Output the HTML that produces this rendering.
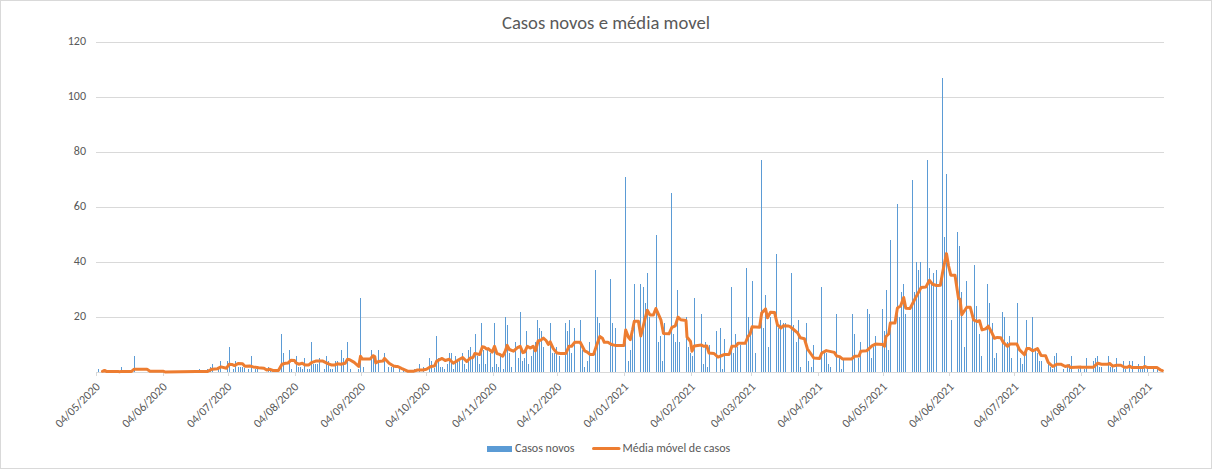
<!DOCTYPE html><html><head><meta charset="utf-8"><style>html,body{margin:0;padding:0;background:#fff;overflow:hidden}svg{display:block}text{font-family:Carlito,"Liberation Sans",sans-serif;fill:#595959}</style></head><body>
<svg width="1212" height="469" viewBox="0 0 1212 469">
<rect x="0" y="0" width="1212" height="469" fill="#fff"/>
<rect x="0.5" y="0.5" width="1211" height="468" fill="none" stroke="#d9d9d9" stroke-width="1"/>
<text x="606" y="29" text-anchor="middle" font-size="18.67" textLength="208.1" lengthAdjust="spacingAndGlyphs">Casos novos e média movel</text>
<rect x="96" y="42" width="1068" height="1" fill="#d9d9d9"/><text x="86" y="44.5" text-anchor="end" font-size="12" textLength="18.25" lengthAdjust="spacingAndGlyphs">120</text><rect x="96" y="97" width="1068" height="1" fill="#d9d9d9"/><text x="86" y="99.5" text-anchor="end" font-size="12" textLength="18.25" lengthAdjust="spacingAndGlyphs">100</text><rect x="96" y="152" width="1068" height="1" fill="#d9d9d9"/><text x="86" y="154.5" text-anchor="end" font-size="12" textLength="12.17" lengthAdjust="spacingAndGlyphs">80</text><rect x="96" y="207" width="1068" height="1" fill="#d9d9d9"/><text x="86" y="209.5" text-anchor="end" font-size="12" textLength="12.17" lengthAdjust="spacingAndGlyphs">60</text><rect x="96" y="262" width="1068" height="1" fill="#d9d9d9"/><text x="86" y="264.5" text-anchor="end" font-size="12" textLength="12.17" lengthAdjust="spacingAndGlyphs">40</text><rect x="96" y="317" width="1068" height="1" fill="#d9d9d9"/><text x="86" y="319.5" text-anchor="end" font-size="12" textLength="12.17" lengthAdjust="spacingAndGlyphs">20</text>
<rect x="96" y="372" width="1068" height="1" fill="#d9d9d9"/>
<rect x="96" y="372" width="1" height="4" fill="#d9d9d9"/><rect x="163" y="372" width="1" height="4" fill="#d9d9d9"/><rect x="228" y="372" width="1" height="4" fill="#d9d9d9"/><rect x="295" y="372" width="1" height="4" fill="#d9d9d9"/><rect x="361" y="372" width="1" height="4" fill="#d9d9d9"/><rect x="426" y="372" width="1" height="4" fill="#d9d9d9"/><rect x="493" y="372" width="1" height="4" fill="#d9d9d9"/><rect x="557" y="372" width="1" height="4" fill="#d9d9d9"/><rect x="624" y="372" width="1" height="4" fill="#d9d9d9"/><rect x="691" y="372" width="1" height="4" fill="#d9d9d9"/><rect x="751" y="372" width="1" height="4" fill="#d9d9d9"/><rect x="818" y="372" width="1" height="4" fill="#d9d9d9"/><rect x="883" y="372" width="1" height="4" fill="#d9d9d9"/><rect x="949" y="372" width="1" height="4" fill="#d9d9d9"/><rect x="1014" y="372" width="1" height="4" fill="#d9d9d9"/><rect x="1081" y="372" width="1" height="4" fill="#d9d9d9"/><rect x="1148" y="372" width="1" height="4" fill="#d9d9d9"/>
<g fill="#5b9bd5"><rect x="98" y="369.00" width="1" height="3.00"/><rect x="121" y="367.00" width="1" height="5.00"/><rect x="134" y="356.00" width="1" height="16.00"/><rect x="199" y="369.00" width="1" height="3.00"/><rect x="207" y="369.00" width="1" height="3.00"/><rect x="210" y="367.00" width="1" height="5.00"/><rect x="212" y="364.00" width="1" height="8.00"/><rect x="218" y="369.00" width="1" height="3.00"/><rect x="220" y="361.00" width="1" height="11.00"/><rect x="227" y="361.00" width="1" height="11.00"/><rect x="229" y="347.00" width="1" height="25.00"/><rect x="233" y="369.00" width="1" height="3.00"/><rect x="235" y="361.00" width="1" height="11.00"/><rect x="238" y="367.00" width="1" height="5.00"/><rect x="240" y="367.00" width="1" height="5.00"/><rect x="242" y="367.00" width="1" height="5.00"/><rect x="244" y="368.00" width="1" height="4.00"/><rect x="248" y="369.00" width="1" height="3.00"/><rect x="251" y="356.00" width="1" height="16.00"/><rect x="255" y="369.00" width="1" height="3.00"/><rect x="257" y="369.00" width="1" height="3.00"/><rect x="268" y="367.00" width="1" height="5.00"/><rect x="270" y="369.00" width="1" height="3.00"/><rect x="281" y="334.00" width="1" height="38.00"/><rect x="283" y="353.00" width="1" height="19.00"/><rect x="289" y="350.00" width="1" height="22.00"/><rect x="291" y="369.00" width="1" height="3.00"/><rect x="296" y="356.00" width="1" height="16.00"/><rect x="298" y="367.00" width="1" height="5.00"/><rect x="300" y="367.00" width="1" height="5.00"/><rect x="302" y="369.00" width="1" height="3.00"/><rect x="304" y="358.00" width="1" height="14.00"/><rect x="307" y="369.00" width="1" height="3.00"/><rect x="309" y="369.00" width="1" height="3.00"/><rect x="311" y="342.00" width="1" height="30.00"/><rect x="313" y="364.00" width="1" height="8.00"/><rect x="315" y="364.00" width="1" height="8.00"/><rect x="317" y="364.00" width="1" height="8.00"/><rect x="319" y="358.00" width="1" height="14.00"/><rect x="324" y="369.00" width="1" height="3.00"/><rect x="326" y="356.00" width="1" height="16.00"/><rect x="328" y="361.00" width="1" height="11.00"/><rect x="330" y="369.00" width="1" height="3.00"/><rect x="332" y="369.00" width="1" height="3.00"/><rect x="335" y="361.00" width="1" height="11.00"/><rect x="337" y="361.00" width="1" height="11.00"/><rect x="341" y="350.00" width="1" height="22.00"/><rect x="343" y="358.00" width="1" height="14.00"/><rect x="347" y="342.00" width="1" height="30.00"/><rect x="350" y="369.00" width="1" height="3.00"/><rect x="358" y="369.00" width="1" height="3.00"/><rect x="360" y="298.00" width="1" height="74.00"/><rect x="363" y="367.00" width="1" height="5.00"/><rect x="371" y="350.00" width="1" height="22.00"/><rect x="373" y="356.00" width="1" height="16.00"/><rect x="375" y="356.00" width="1" height="16.00"/><rect x="378" y="350.00" width="1" height="22.00"/><rect x="384" y="353.00" width="1" height="19.00"/><rect x="388" y="367.00" width="1" height="5.00"/><rect x="391" y="367.00" width="1" height="5.00"/><rect x="393" y="367.00" width="1" height="5.00"/><rect x="399" y="369.00" width="1" height="3.00"/><rect x="403" y="369.00" width="1" height="3.00"/><rect x="414" y="369.00" width="1" height="3.00"/><rect x="419" y="364.00" width="1" height="8.00"/><rect x="423" y="367.00" width="1" height="5.00"/><rect x="429" y="358.00" width="1" height="14.00"/><rect x="431" y="361.00" width="1" height="11.00"/><rect x="434" y="368.00" width="1" height="4.00"/><rect x="436" y="336.00" width="1" height="36.00"/><rect x="438" y="358.00" width="1" height="14.00"/><rect x="440" y="367.00" width="1" height="5.00"/><rect x="442" y="367.00" width="1" height="5.00"/><rect x="444" y="369.00" width="1" height="3.00"/><rect x="447" y="364.00" width="1" height="8.00"/><rect x="449" y="353.00" width="1" height="19.00"/><rect x="451" y="353.00" width="1" height="19.00"/><rect x="453" y="369.00" width="1" height="3.00"/><rect x="455" y="356.00" width="1" height="16.00"/><rect x="457" y="362.00" width="1" height="10.00"/><rect x="459" y="361.00" width="1" height="11.00"/><rect x="462" y="353.00" width="1" height="19.00"/><rect x="464" y="364.00" width="1" height="8.00"/><rect x="466" y="369.00" width="1" height="3.00"/><rect x="468" y="350.00" width="1" height="22.00"/><rect x="470" y="347.00" width="1" height="25.00"/><rect x="472" y="358.00" width="1" height="14.00"/><rect x="475" y="334.00" width="1" height="38.00"/><rect x="477" y="356.00" width="1" height="16.00"/><rect x="479" y="364.00" width="1" height="8.00"/><rect x="481" y="323.00" width="1" height="49.00"/><rect x="483" y="350.00" width="1" height="22.00"/><rect x="485" y="364.00" width="1" height="8.00"/><rect x="487" y="350.00" width="1" height="22.00"/><rect x="490" y="353.00" width="1" height="19.00"/><rect x="492" y="367.00" width="1" height="5.00"/><rect x="494" y="323.00" width="1" height="49.00"/><rect x="496" y="364.00" width="1" height="8.00"/><rect x="498" y="367.00" width="1" height="5.00"/><rect x="500" y="356.00" width="1" height="16.00"/><rect x="503" y="369.00" width="1" height="3.00"/><rect x="505" y="317.00" width="1" height="55.00"/><rect x="507" y="325.00" width="1" height="47.00"/><rect x="509" y="353.00" width="1" height="19.00"/><rect x="511" y="367.00" width="1" height="5.00"/><rect x="515" y="342.00" width="1" height="30.00"/><rect x="518" y="358.00" width="1" height="14.00"/><rect x="520" y="312.00" width="1" height="60.00"/><rect x="522" y="361.00" width="1" height="11.00"/><rect x="524" y="358.00" width="1" height="14.00"/><rect x="526" y="331.00" width="1" height="41.00"/><rect x="528" y="364.00" width="1" height="8.00"/><rect x="531" y="356.00" width="1" height="16.00"/><rect x="533" y="350.00" width="1" height="22.00"/><rect x="535" y="342.00" width="1" height="30.00"/><rect x="537" y="320.00" width="1" height="52.00"/><rect x="539" y="328.00" width="1" height="44.00"/><rect x="541" y="331.00" width="1" height="41.00"/><rect x="543" y="347.00" width="1" height="25.00"/><rect x="550" y="323.00" width="1" height="49.00"/><rect x="552" y="353.00" width="1" height="19.00"/><rect x="554" y="353.00" width="1" height="19.00"/><rect x="556" y="347.00" width="1" height="25.00"/><rect x="559" y="356.00" width="1" height="16.00"/><rect x="565" y="323.00" width="1" height="49.00"/><rect x="567" y="331.00" width="1" height="41.00"/><rect x="569" y="320.00" width="1" height="52.00"/><rect x="571" y="353.00" width="1" height="19.00"/><rect x="574" y="328.00" width="1" height="44.00"/><rect x="580" y="320.00" width="1" height="52.00"/><rect x="582" y="350.00" width="1" height="22.00"/><rect x="584" y="367.00" width="1" height="5.00"/><rect x="587" y="361.00" width="1" height="11.00"/><rect x="589" y="342.00" width="1" height="30.00"/><rect x="595" y="270.00" width="1" height="102.00"/><rect x="597" y="317.00" width="1" height="55.00"/><rect x="599" y="323.00" width="1" height="49.00"/><rect x="610" y="279.00" width="1" height="93.00"/><rect x="612" y="323.00" width="1" height="49.00"/><rect x="615" y="328.00" width="1" height="44.00"/><rect x="625" y="177.00" width="1" height="195.00"/><rect x="628" y="361.00" width="1" height="11.00"/><rect x="630" y="350.00" width="1" height="22.00"/><rect x="632" y="328.00" width="1" height="44.00"/><rect x="634" y="284.00" width="1" height="88.00"/><rect x="640" y="284.00" width="1" height="88.00"/><rect x="643" y="287.00" width="1" height="85.00"/><rect x="645" y="303.00" width="1" height="69.00"/><rect x="647" y="273.00" width="1" height="99.00"/><rect x="649" y="317.00" width="1" height="55.00"/><rect x="656" y="235.00" width="1" height="137.00"/><rect x="658" y="342.00" width="1" height="30.00"/><rect x="660" y="336.00" width="1" height="36.00"/><rect x="662" y="361.00" width="1" height="11.00"/><rect x="664" y="323.00" width="1" height="49.00"/><rect x="671" y="193.00" width="1" height="179.00"/><rect x="673" y="334.00" width="1" height="38.00"/><rect x="675" y="342.00" width="1" height="30.00"/><rect x="677" y="290.00" width="1" height="82.00"/><rect x="679" y="342.00" width="1" height="30.00"/><rect x="686" y="317.00" width="1" height="55.00"/><rect x="688" y="347.00" width="1" height="25.00"/><rect x="690" y="353.00" width="1" height="19.00"/><rect x="692" y="356.00" width="1" height="16.00"/><rect x="694" y="298.00" width="1" height="74.00"/><rect x="701" y="314.00" width="1" height="58.00"/><rect x="703" y="364.00" width="1" height="8.00"/><rect x="705" y="342.00" width="1" height="30.00"/><rect x="707" y="367.00" width="1" height="5.00"/><rect x="709" y="345.00" width="1" height="27.00"/><rect x="716" y="331.00" width="1" height="41.00"/><rect x="720" y="328.00" width="1" height="44.00"/><rect x="722" y="369.00" width="1" height="3.00"/><rect x="724" y="339.00" width="1" height="33.00"/><rect x="731" y="287.00" width="1" height="85.00"/><rect x="733" y="353.00" width="1" height="19.00"/><rect x="735" y="334.00" width="1" height="38.00"/><rect x="737" y="347.00" width="1" height="25.00"/><rect x="740" y="345.00" width="1" height="27.00"/><rect x="746" y="268.00" width="1" height="104.00"/><rect x="748" y="317.00" width="1" height="55.00"/><rect x="750" y="328.00" width="1" height="44.00"/><rect x="752" y="281.00" width="1" height="91.00"/><rect x="755" y="353.00" width="1" height="19.00"/><rect x="761" y="160.00" width="1" height="212.00"/><rect x="763" y="328.00" width="1" height="44.00"/><rect x="765" y="295.00" width="1" height="77.00"/><rect x="768" y="347.00" width="1" height="25.00"/><rect x="770" y="317.00" width="1" height="55.00"/><rect x="776" y="254.00" width="1" height="118.00"/><rect x="778" y="328.00" width="1" height="44.00"/><rect x="780" y="320.00" width="1" height="52.00"/><rect x="783" y="323.00" width="1" height="49.00"/><rect x="785" y="323.00" width="1" height="49.00"/><rect x="791" y="273.00" width="1" height="99.00"/><rect x="793" y="325.00" width="1" height="47.00"/><rect x="796" y="342.00" width="1" height="30.00"/><rect x="798" y="320.00" width="1" height="52.00"/><rect x="800" y="367.00" width="1" height="5.00"/><rect x="806" y="323.00" width="1" height="49.00"/><rect x="808" y="361.00" width="1" height="11.00"/><rect x="811" y="367.00" width="1" height="5.00"/><rect x="813" y="345.00" width="1" height="27.00"/><rect x="821" y="287.00" width="1" height="85.00"/><rect x="824" y="353.00" width="1" height="19.00"/><rect x="826" y="353.00" width="1" height="19.00"/><rect x="828" y="364.00" width="1" height="8.00"/><rect x="830" y="367.00" width="1" height="5.00"/><rect x="836" y="314.00" width="1" height="58.00"/><rect x="839" y="358.00" width="1" height="14.00"/><rect x="841" y="369.00" width="1" height="3.00"/><rect x="843" y="358.00" width="1" height="14.00"/><rect x="852" y="314.00" width="1" height="58.00"/><rect x="854" y="334.00" width="1" height="38.00"/><rect x="858" y="358.00" width="1" height="14.00"/><rect x="860" y="342.00" width="1" height="30.00"/><rect x="867" y="309.00" width="1" height="63.00"/><rect x="869" y="314.00" width="1" height="58.00"/><rect x="871" y="358.00" width="1" height="14.00"/><rect x="873" y="347.00" width="1" height="25.00"/><rect x="875" y="336.00" width="1" height="36.00"/><rect x="882" y="309.00" width="1" height="63.00"/><rect x="884" y="331.00" width="1" height="41.00"/><rect x="886" y="290.00" width="1" height="82.00"/><rect x="888" y="350.00" width="1" height="22.00"/><rect x="890" y="240.00" width="1" height="132.00"/><rect x="897" y="204.00" width="1" height="168.00"/><rect x="899" y="317.00" width="1" height="55.00"/><rect x="901" y="292.00" width="1" height="80.00"/><rect x="903" y="284.00" width="1" height="88.00"/><rect x="905" y="314.00" width="1" height="58.00"/><rect x="912" y="180.00" width="1" height="192.00"/><rect x="914" y="292.00" width="1" height="80.00"/><rect x="916" y="262.00" width="1" height="110.00"/><rect x="918" y="270.00" width="1" height="102.00"/><rect x="920" y="262.00" width="1" height="110.00"/><rect x="927" y="160.00" width="1" height="212.00"/><rect x="929" y="268.00" width="1" height="104.00"/><rect x="931" y="284.00" width="1" height="88.00"/><rect x="933" y="273.00" width="1" height="99.00"/><rect x="936" y="270.00" width="1" height="102.00"/><rect x="942" y="78.00" width="1" height="294.00"/><rect x="944" y="237.00" width="1" height="135.00"/><rect x="946" y="174.00" width="1" height="198.00"/><rect x="951" y="320.00" width="1" height="52.00"/><rect x="957" y="232.00" width="1" height="140.00"/><rect x="959" y="246.00" width="1" height="126.00"/><rect x="961" y="292.00" width="1" height="80.00"/><rect x="964" y="347.00" width="1" height="25.00"/><rect x="966" y="281.00" width="1" height="91.00"/><rect x="972" y="320.00" width="1" height="52.00"/><rect x="974" y="265.00" width="1" height="107.00"/><rect x="976" y="306.00" width="1" height="66.00"/><rect x="979" y="334.00" width="1" height="38.00"/><rect x="981" y="356.00" width="1" height="16.00"/><rect x="987" y="284.00" width="1" height="88.00"/><rect x="989" y="303.00" width="1" height="69.00"/><rect x="992" y="323.00" width="1" height="49.00"/><rect x="994" y="358.00" width="1" height="14.00"/><rect x="996" y="353.00" width="1" height="19.00"/><rect x="1002" y="312.00" width="1" height="60.00"/><rect x="1004" y="317.00" width="1" height="55.00"/><rect x="1007" y="342.00" width="1" height="30.00"/><rect x="1009" y="336.00" width="1" height="36.00"/><rect x="1011" y="358.00" width="1" height="14.00"/><rect x="1017" y="303.00" width="1" height="69.00"/><rect x="1020" y="358.00" width="1" height="14.00"/><rect x="1022" y="364.00" width="1" height="8.00"/><rect x="1024" y="356.00" width="1" height="16.00"/><rect x="1026" y="320.00" width="1" height="52.00"/><rect x="1032" y="317.00" width="1" height="55.00"/><rect x="1035" y="350.00" width="1" height="22.00"/><rect x="1037" y="353.00" width="1" height="19.00"/><rect x="1039" y="361.00" width="1" height="11.00"/><rect x="1041" y="361.00" width="1" height="11.00"/><rect x="1048" y="364.00" width="1" height="8.00"/><rect x="1050" y="367.00" width="1" height="5.00"/><rect x="1052" y="369.00" width="1" height="3.00"/><rect x="1054" y="356.00" width="1" height="16.00"/><rect x="1056" y="353.00" width="1" height="19.00"/><rect x="1063" y="369.00" width="1" height="3.00"/><rect x="1067" y="367.00" width="1" height="5.00"/><rect x="1069" y="364.00" width="1" height="8.00"/><rect x="1071" y="356.00" width="1" height="16.00"/><rect x="1078" y="369.00" width="1" height="3.00"/><rect x="1080" y="367.00" width="1" height="5.00"/><rect x="1084" y="369.00" width="1" height="3.00"/><rect x="1086" y="358.00" width="1" height="14.00"/><rect x="1093" y="361.00" width="1" height="11.00"/><rect x="1095" y="358.00" width="1" height="14.00"/><rect x="1097" y="356.00" width="1" height="16.00"/><rect x="1099" y="367.00" width="1" height="5.00"/><rect x="1101" y="367.00" width="1" height="5.00"/><rect x="1108" y="356.00" width="1" height="16.00"/><rect x="1110" y="367.00" width="1" height="5.00"/><rect x="1112" y="367.00" width="1" height="5.00"/><rect x="1114" y="369.00" width="1" height="3.00"/><rect x="1116" y="358.00" width="1" height="14.00"/><rect x="1123" y="361.00" width="1" height="11.00"/><rect x="1125" y="369.00" width="1" height="3.00"/><rect x="1129" y="361.00" width="1" height="11.00"/><rect x="1132" y="361.00" width="1" height="11.00"/><rect x="1138" y="364.00" width="1" height="8.00"/><rect x="1140" y="369.00" width="1" height="3.00"/><rect x="1142" y="369.00" width="1" height="3.00"/><rect x="1144" y="356.00" width="1" height="16.00"/><rect x="1147" y="369.00" width="1" height="3.00"/><rect x="1153" y="369.00" width="1" height="3.00"/><rect x="1157" y="369.00" width="1" height="3.00"/></g>
<polyline points="102.5,371.3 104.5,370.4 106.3,371.4 117.8,371.4 119.5,371.8 121.3,371.4 131.5,371.4 134.2,369.2 147.0,369.2 150.0,371.2 163.0,371.2 165.0,371.9 196.0,371.6 207.6,371.4 212.1,369.2 217.5,368.7 221.0,366.9 226.4,368.3 229.1,364.2 231.8,364.4 234.5,365.6 238.1,363.5 242.6,363.8 244.8,366.2 249.7,366.0 253.3,366.9 258.7,367.8 264.0,368.3 266.7,370.0 269.4,369.2 273.0,370.5 278.4,370.5 282.0,364.2 285.5,363.3 288.2,362.9 290.9,360.2 294.5,360.5 296.0,362.9 298.7,364.2 302.3,363.3 305.0,365.1 308.5,365.1 312.1,362.3 315.7,361.1 322.9,361.1 327.3,363.3 331.8,365.1 334.5,365.1 337.2,363.8 340.8,364.2 345.2,363.3 347.5,359.3 349.7,359.8 354.2,362.4 358.7,366.5 360.5,356.2 362.2,358.9 370.3,358.9 373.0,355.7 374.8,356.6 375.7,362.9 378.4,361.5 382.8,361.1 384.6,358.4 389.1,363.3 393.6,366.0 396.0,366.5 397.8,366.5 401.4,368.3 407.6,371.2 413.9,371.2 417.5,370.0 422.9,370.0 426.4,369.2 430.9,366.5 434.5,366.0 436.7,361.1 442.1,358.4 445.2,360.5 449.3,359.3 453.3,363.3 458.7,359.8 462.7,357.5 466.7,361.5 470.3,358.0 473.0,357.5 474.8,353.5 479.7,354.4 482.4,346.8 484.6,347.2 486.4,349.0 488.2,348.6 492.2,352.1 494.5,346.3 496.9,353.5 499.6,354.4 502.7,356.2 505.0,351.7 507.2,345.4 509.4,349.5 513.5,351.2 517.5,347.7 520.2,346.3 522.9,352.6 524.6,352.1 527.3,346.3 530.5,348.1 533.2,346.3 535.4,350.8 538.1,341.0 540.8,340.1 543.4,338.1 546.1,340.5 548.4,344.5 550.2,341.8 553.3,348.6 556.9,353.0 560.5,353.5 565.8,353.5 569.0,346.3 571.6,346.3 574.8,342.3 580.2,342.3 584.6,350.8 587.3,352.1 590.0,354.4 593.6,354.4 596.3,346.3 599.8,336.5 602.5,338.3 604.3,342.3 607.9,342.3 611.5,344.5 615.1,345.4 624.0,345.4 625.7,330.0 628.5,337.4 630.3,339.6 632.5,330.0 634.3,321.2 638.4,321.2 640.8,336.0 644.6,320.5 647.3,310.2 650.0,315.0 653.4,315.0 655.9,308.5 660.9,319.8 663.5,333.4 669.0,333.8 671.9,327.3 675.3,325.9 678.0,317.1 680.7,319.8 686.0,320.6 687.0,337.0 690.5,341.5 692.0,351.2 694.3,345.9 701.4,345.0 703.7,346.3 706.8,345.9 709.0,353.0 714.0,353.5 718.0,357.1 722.0,355.5 724.7,354.4 729.2,354.4 731.9,346.3 736.3,345.9 738.1,343.2 745.3,343.2 748.0,336.5 750.1,334.0 752.1,326.8 759.6,327.2 761.7,313.0 765.5,308.9 767.5,317.7 770.5,312.3 774.6,312.6 777.4,324.6 780.8,328.0 783.5,325.7 788.0,325.9 790.1,326.6 794.2,330.0 797.6,332.9 800.3,337.8 804.4,338.7 807.5,349.0 813.8,358.0 819.6,358.4 821.8,353.0 826.3,350.6 834.3,352.4 836.6,356.0 839.7,356.6 842.4,358.9 851.8,358.9 854.5,356.2 859.0,356.0 860.8,351.2 866.6,350.8 872.0,345.9 875.5,344.1 882.7,344.5 884.5,346.3 886.0,336.5 888.7,334.0 890.3,323.1 895.0,323.1 897.4,308.1 900.6,306.1 903.7,297.5 905.8,308.2 910.0,308.5 915.5,297.9 921.1,287.6 925.8,287.1 929.5,280.3 932.6,284.3 936.4,285.5 938.0,285.4 940.4,285.3 942.4,273.5 944.3,264.0 946.5,253.6 948.6,266.0 950.8,275.2 955.0,275.2 958.4,297.9 960.1,299.6 961.8,314.8 966.8,307.2 970.2,307.2 973.6,319.8 976.9,321.5 979.5,320.7 982.0,329.9 985.6,328.9 988.3,326.2 991.9,332.8 994.5,338.3 997.2,337.4 1000.8,337.8 1003.5,342.7 1007.5,346.3 1009.8,344.1 1016.9,344.1 1019.6,349.9 1024.5,354.8 1026.8,348.6 1029.4,348.6 1032.6,350.8 1037.5,348.6 1041.1,355.5 1045.6,355.7 1048.2,362.4 1052.7,366.5 1057.2,364.2 1060.8,364.2 1065.3,366.5 1068.0,365.6 1070.6,367.4 1080.5,367.1 1081.5,367.2 1093.4,367.2 1097.8,363.2 1101.5,364.3 1107.5,364.3 1109.7,363.5 1112.7,366.1 1116.4,365.2 1120.8,365.2 1124.5,367.2 1127.5,367.2 1129.4,366.1 1132.0,367.6 1143.1,367.6 1144.6,366.5 1147.6,367.6 1157.2,367.6 1160.2,369.8 1162.4,370.6" fill="none" stroke="#ed7d31" stroke-width="3" stroke-linejoin="round" stroke-linecap="round"/>
<text x="100.9" y="387.4" text-anchor="end" font-size="12" textLength="57.94" lengthAdjust="spacingAndGlyphs" transform="rotate(-45 100.9 387.4)">04/05/2020</text><text x="167.7" y="387.4" text-anchor="end" font-size="12" textLength="57.94" lengthAdjust="spacingAndGlyphs" transform="rotate(-45 167.7 387.4)">04/06/2020</text><text x="232.4" y="387.4" text-anchor="end" font-size="12" textLength="57.94" lengthAdjust="spacingAndGlyphs" transform="rotate(-45 232.4 387.4)">04/07/2020</text><text x="299.2" y="387.4" text-anchor="end" font-size="12" textLength="57.94" lengthAdjust="spacingAndGlyphs" transform="rotate(-45 299.2 387.4)">04/08/2020</text><text x="366.0" y="387.4" text-anchor="end" font-size="12" textLength="57.94" lengthAdjust="spacingAndGlyphs" transform="rotate(-45 366.0 387.4)">04/09/2020</text><text x="430.7" y="387.4" text-anchor="end" font-size="12" textLength="57.94" lengthAdjust="spacingAndGlyphs" transform="rotate(-45 430.7 387.4)">04/10/2020</text><text x="497.5" y="387.4" text-anchor="end" font-size="12" textLength="57.94" lengthAdjust="spacingAndGlyphs" transform="rotate(-45 497.5 387.4)">04/11/2020</text><text x="562.2" y="387.4" text-anchor="end" font-size="12" textLength="57.94" lengthAdjust="spacingAndGlyphs" transform="rotate(-45 562.2 387.4)">04/12/2020</text><text x="629.0" y="387.4" text-anchor="end" font-size="12" textLength="57.94" lengthAdjust="spacingAndGlyphs" transform="rotate(-45 629.0 387.4)">04/01/2021</text><text x="695.8" y="387.4" text-anchor="end" font-size="12" textLength="57.94" lengthAdjust="spacingAndGlyphs" transform="rotate(-45 695.8 387.4)">04/02/2021</text><text x="756.2" y="387.4" text-anchor="end" font-size="12" textLength="57.94" lengthAdjust="spacingAndGlyphs" transform="rotate(-45 756.2 387.4)">04/03/2021</text><text x="823.0" y="387.4" text-anchor="end" font-size="12" textLength="57.94" lengthAdjust="spacingAndGlyphs" transform="rotate(-45 823.0 387.4)">04/04/2021</text><text x="887.7" y="387.4" text-anchor="end" font-size="12" textLength="57.94" lengthAdjust="spacingAndGlyphs" transform="rotate(-45 887.7 387.4)">04/05/2021</text><text x="954.5" y="387.4" text-anchor="end" font-size="12" textLength="57.94" lengthAdjust="spacingAndGlyphs" transform="rotate(-45 954.5 387.4)">04/06/2021</text><text x="1019.2" y="387.4" text-anchor="end" font-size="12" textLength="57.94" lengthAdjust="spacingAndGlyphs" transform="rotate(-45 1019.2 387.4)">04/07/2021</text><text x="1086.0" y="387.4" text-anchor="end" font-size="12" textLength="57.94" lengthAdjust="spacingAndGlyphs" transform="rotate(-45 1086.0 387.4)">04/08/2021</text><text x="1152.8" y="387.4" text-anchor="end" font-size="12" textLength="57.94" lengthAdjust="spacingAndGlyphs" transform="rotate(-45 1152.8 387.4)">04/09/2021</text>
<rect x="487" y="446" width="25" height="6" fill="#5b9bd5"/>
<text x="515" y="451.5" font-size="12" textLength="59.48" lengthAdjust="spacingAndGlyphs">Casos novos</text>
<line x1="593.5" y1="448.5" x2="619" y2="448.5" stroke="#ed7d31" stroke-width="3" stroke-linecap="round"/>
<text x="622.5" y="451.5" font-size="12" textLength="107.78" lengthAdjust="spacingAndGlyphs">Média móvel de casos</text>
</svg></body></html>
